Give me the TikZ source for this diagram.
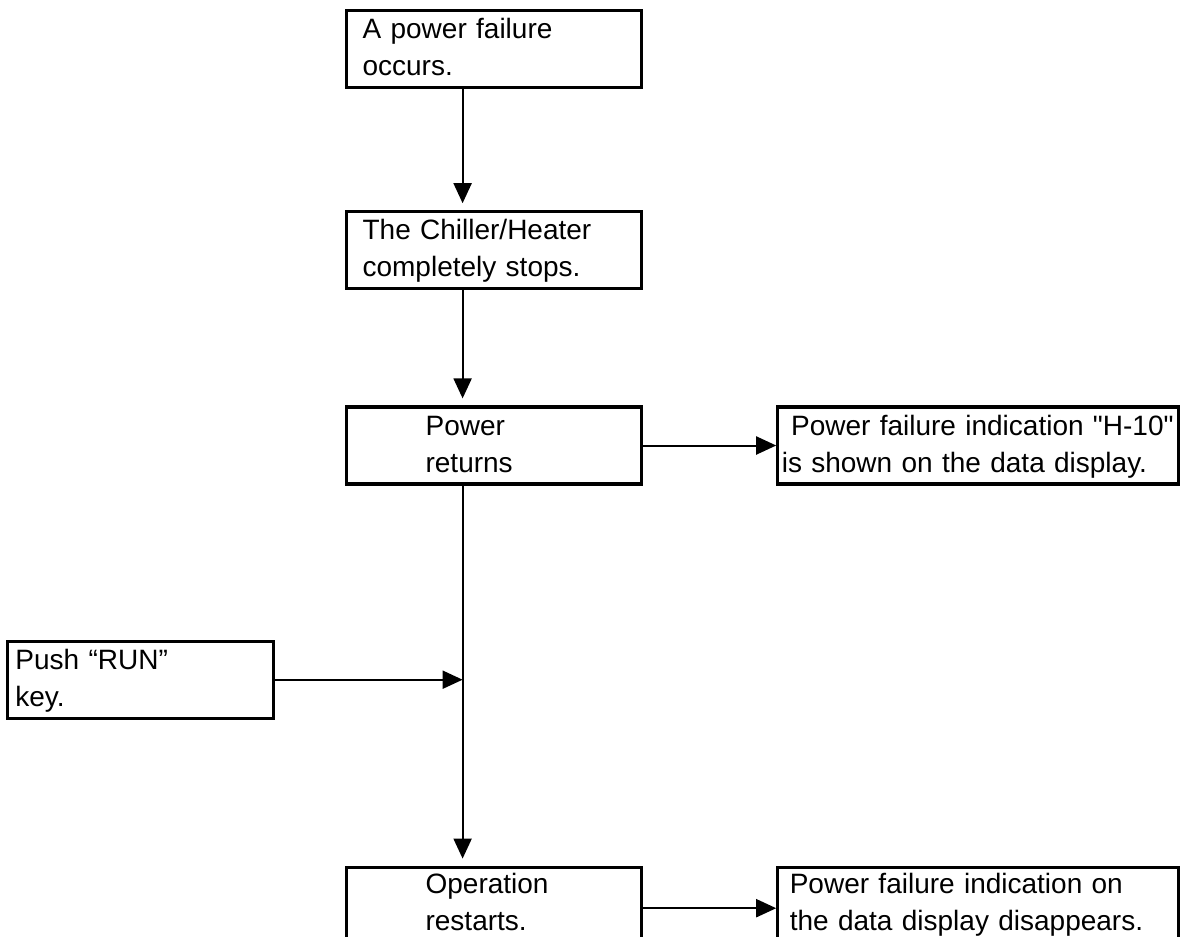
\documentclass[tikz,border=0pt]{standalone}
\usepackage{fontspec}
\setmainfont{Liberation Sans}[Ligatures=TeXOff]
\usetikzlibrary{arrows.meta, positioning}

\begin{document}
\begin{tikzpicture}[
        node distance=57.5pt and 66.5pt,
        plainbox/.style={rectangle, draw=black, line width=1.6pt, minimum height=38.5pt, inner ysep=2pt, text height=10.5pt, text depth=21pt, align=left, font=\fontsize{14pt}{18.5pt}\selectfont},
        stage/.style={plainbox, inner xsep=8pt, text width=131.5pt},
        indented/.style={plainbox, inner xsep=39.5pt, text width=68.5pt},
        notice/.style={plainbox, inner xsep=2pt, text width=196.5pt},
        action/.style={plainbox, inner xsep=4pt, text width=125pt},
        lastrow/.style={minimum height=45pt, text depth=29.5pt},
        arrow/.style={line width=1pt, -{Triangle[length=10pt, width=9pt]}},
        droparrow/.style={arrow, shorten >=3.5pt}
    ]
        \useasboundingbox (0,0) rectangle (591pt,-468pt);
        % Nodes
        \node[stage, anchor=north west] (fail) at (172.5pt,-4.5pt) {A power failure\\occurs.};
        \node[stage, below=60.5pt of fail] (stop) {The Chiller/Heater\\completely stops.};
        \node[indented, below=of stop] (ret) {Power\\returns};
        \node[notice, right=of ret] (shown) {\ Power failure indication "H-10"\\is shown on the data display.};
        \node[indented, lastrow, below=190pt of ret] (restart) {Operation\\restarts.};
        \node[notice, lastrow, right=of restart, inner xsep=6pt, text width=188.5pt] (gone) {Power failure indication on\\the data display disappears.};
        \node[action, below left=77pt and 35pt of ret.south west] (push) {Push “RUN”\\key.};
        \coordinate (trunk) at ([xshift=-15.75pt]ret.south);

        % Arrows
        \draw[droparrow] ([xshift=-15.75pt]fail.south) -- ([xshift=-15.75pt]stop.north);
        \draw[droparrow] ([xshift=-15.75pt]stop.south) -- ([xshift=-15.75pt]ret.north);
        \draw[droparrow] (trunk) -- ([xshift=-15.75pt]restart.north);
        \draw[arrow] (ret) -- (shown);
        \draw[arrow] (push.east) -- (push.east -| trunk);
        \draw[arrow] ([yshift=2pt]restart.east) -- ([yshift=2pt]gone.west);
    \end{tikzpicture}
\end{document}
